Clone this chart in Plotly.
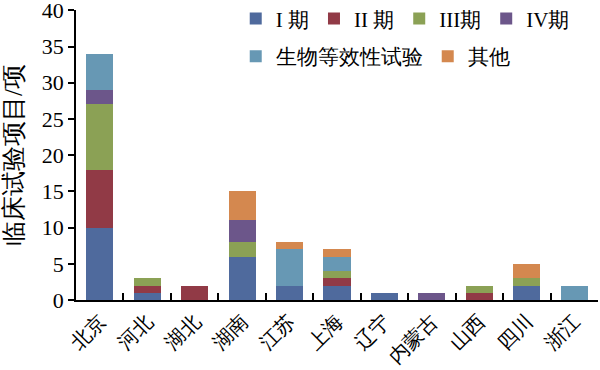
import plotly.graph_objects as go

regions = ["北京", "河北", "湖北", "湖南", "江苏", "上海", "辽宁", "内蒙古", "山西", "四川", "浙江"]
phase1 = [10, 1, 0, 6, 2, 2, 1, 0, 0, 2, 0]
phase2 = [8, 1, 2, 0, 0, 1, 0, 0, 1, 0, 0]
phase3 = [9, 1, 0, 2, 0, 1, 0, 0, 1, 1, 0]
phase4 = [2, 0, 0, 3, 0, 0, 0, 1, 0, 0, 0]
bioeq = [5, 0, 0, 0, 5, 2, 0, 0, 0, 0, 2]
other = [0, 0, 0, 4, 1, 1, 0, 0, 0, 2, 0]
y_ticks = [0, 5, 10, 15, 20, 25, 30, 35, 40]

series_names = ["I 期", "II 期", "III期", "IV期", "生物等效性试验", "其他"]
series_values = [phase1, phase2, phase3, phase4, bioeq, other]
colors = ["#4F6A9D", "#913A46", "#8BA155", "#6C568A", "#6798B4", "#D4884F"]
legend_ids = ["legend", "legend", "legend", "legend", "legend2", "legend2"]

FONT = "Times New Roman, Liberation Serif, serif"

fig = go.Figure()
for name, vals, c, lg in zip(series_names, series_values, colors, legend_ids):
    fig.add_trace(go.Bar(x=regions, y=vals, name=name, marker=dict(color=c, line=dict(width=0)),
                         legend=lg))

fig.update_layout(
    barmode="stack",
    bargap=0.43,
    width=600, height=370,
    margin=dict(l=76, r=2, t=10, b=70, autoexpand=False),
    plot_bgcolor="white", paper_bgcolor="white",
    font=dict(family=FONT, size=21, color="black"),
    legend=dict(orientation="h", x=0.306, y=1.04, xanchor="left", yanchor="top",
                font=dict(family=FONT, size=21), bgcolor="rgba(0,0,0,0)",
                itemwidth=30, traceorder="normal"),
    legend2=dict(orientation="h", x=0.306, y=0.91, xanchor="left", yanchor="top",
                 font=dict(family=FONT, size=21), bgcolor="rgba(0,0,0,0)",
                 itemwidth=30, traceorder="normal"),
)
fig.update_yaxes(range=[0, 40.05], tickvals=y_ticks, showline=True, linecolor="black", linewidth=1.5,
                 ticks="outside", ticklen=6, tickwidth=1.5, tickcolor="black", showgrid=False,
                 zeroline=False, automargin=False, ticklabeloverflow="allow",
                 tickfont=dict(family=FONT, size=22),
                 title=dict(text="临床试验项目/项", font=dict(family=FONT, size=25), standoff=12))
fig.update_xaxes(showline=True, linecolor="black", linewidth=1.5, ticks="inside", ticklen=7,
                 tickwidth=1.5, tickcolor="black", tickson="boundaries", tickangle=-45,
                 automargin=False, ticklabeloverflow="allow", showgrid=False,
                 tickfont=dict(family=FONT, size=20))

fig.write_html("out.html", config={"displayModeBar": False},
               post_script="document.body.style.margin='0';")
